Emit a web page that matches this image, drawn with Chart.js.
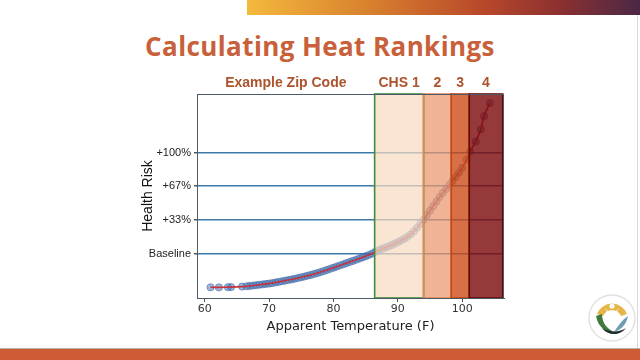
<!DOCTYPE html>
<html>
<head>
<meta charset="utf-8">
<script src="https://cdn.jsdelivr.net/npm/chart.js@4.4.1/dist/chart.umd.min.js"></script>
<style>
    html, body { margin: 0; padding: 0; background: #fff; }
    #slide { position: relative; width: 640px; height: 360px; overflow: hidden; background: #fff; }
    #topBar {
        position: absolute; left: 247px; top: 0; width: 393px; height: 15px;
        background: linear-gradient(90deg, #f3b93d 0%, #d9832f 30%, #b9482a 60%, #8a3030 80%, #4b2846 100%);
    }
    #bottomBar { position: absolute; left: 0; top: 348px; width: 640px; height: 12px; background: #cd5b33; border-top: 1px solid #b9b0a8; }
    #edge { position: absolute; left: 637px; top: 15px; width: 1px; height: 333px; background: #d8d8d8; }
    #title {
        position: absolute; left: 0; top: 28px; width: 640px; text-align: center;
        font: 700 26px 'Open Sans', sans-serif; color: #c8603a; letter-spacing: 0.4px;
    }
    #chart { position: absolute; left: 0; top: 0; }
    #logo { position: absolute; left: 588px; top: 294px; }
</style>
</head>
<body>
<div id="slide">
    <div id="topBar"></div>
    <div id="edge"></div>
    <div id="title">Calculating Heat Rankings</div>
    <canvas id="chart" width="640" height="360"></canvas>
    <svg id="logo" width="48" height="48" viewBox="0 0 48 48">
        <circle cx="24" cy="24" r="23" fill="#fff" stroke="#e2e2e2" stroke-width="1.5"/>
        <path d="M9 20 A16 16 0 0 1 39 20 L33 22 A10 10 0 0 0 15 22 Z" fill="#e6b548"/>
        <circle cx="24" cy="12" r="2.6" fill="#fff"/>
        <path d="M17 14 L24 22 L31 14 L25 26 L23 26 Z" fill="#fff"/>
        <path d="M8 22 C10 34 20 40 30 40 C20 36 14 30 14 20 Z" fill="#3f7a3c"/>
        <path d="M40 22 C38 32 32 36 26 38 C30 32 34 26 40 22 Z" fill="#6e9db3"/>
        <path d="M14 34 C20 42 32 42 38 34 C32 38 22 39 14 34 Z" fill="#1f2b2b"/>
    </svg>
    <div id="bottomBar"></div>
</div>
<script>
// ── Data ────────────────────────────────────────────────────
const temps = [60.9, 62.2, 63.6, 64.1, 65.8, 66.5, 67, 67.5, 68, 68.5, 69, 69.5, 70, 70.5,
    71, 71.5, 72, 72.5, 73, 73.5, 74, 74.5, 75, 75.5, 76, 76.5, 77, 77.5, 78, 78.5, 79, 79.5,
    80, 80.5, 81, 81.5, 82, 82.5, 83, 83.5, 84, 84.5, 85, 85.5, 86, 86.5, 87, 87.5, 88, 88.5,
    89, 89.5, 90, 90.5, 91, 91.5, 92, 92.5, 93, 93.5, 94, 94.5, 95, 95.5, 96, 96.5, 97, 97.5,
    98, 98.5, 99, 99.5, 100, 100.7, 101.2, 102.1, 102.9, 103.4, 104.3];
const risk = [-33.4, -33.5, -33.3, -33.2, -32.7, -32.4, -32.0, -31.7, -31.3, -30.9, -30.5, -30.1, -29.7, -29.2,
    -28.6, -28.0, -27.4, -26.8, -26.2, -25.6, -24.9, -24.2, -23.5, -22.7, -21.9, -21.1, -20.2, -19.3, -18.3, -17.3, -16.2, -15.1,
    -14.0, -12.9, -11.8, -10.7, -9.5, -8.4, -7.3, -6.2, -5.0, -3.8, -2.6, -1.4, 0.0, 1.6, 3.2, 4.6, 5.8, 7.0,
    8.3, 9.8, 11.3, 12.9, 14.6, 16.6, 19.0, 22.0, 25.5, 29.5, 33.5, 38.0, 42.5, 47.0, 51.5, 56.0, 60.0, 64.0,
    68.0, 72.0, 76.0, 80.0, 85.0, 93.0, 101.0, 111.0, 123.0, 136.0, 149.0];

const yTickValues = [0, 33, 67, 100];
const yTickLabels = ['Baseline', '+33%', '+67%', '+100%'];
const xTickValues = [60, 70, 80, 90, 100];

// CHS zones: edges in °F, one label per zone
const zoneEdges  = [86.4, 94.0, 98.3, 101.1, 106.3];
const zoneLabels = ['CHS 1', '2', '3', '4'];
const baseLabel  = 'Example Zip Code';
const zoneFills   = ['rgba(248,217,192,0.72)', 'rgba(236,150,108,0.72)', 'rgba(204,72,18,0.78)', 'rgba(124,8,10,0.8)'];
const zoneStrokes = ['#3f8c3c', '#e0885a', '#c4440e', '#640a0a'];

const points = temps.map((t, i) => ({ x: t, y: risk[i] }));

// ── Zones, frame and zone labels ────────────────────────────
const zonePlugin = {
    id: 'zones',
    afterDatasetsDraw(chart) {
        const { ctx, chartArea: a, scales: { x } } = chart;
        ctx.save();
        for (let i = 0; i < zoneLabels.length; i++) {
            const x0 = x.getPixelForValue(zoneEdges[i]);
            const x1 = x.getPixelForValue(zoneEdges[i + 1]);
            ctx.fillStyle = zoneFills[i];
            ctx.fillRect(x0, a.top, x1 - x0, a.bottom - a.top);
        }
        for (let i = 0; i < zoneLabels.length; i++) {
            const x0 = x.getPixelForValue(zoneEdges[i]);
            const x1 = x.getPixelForValue(zoneEdges[i + 1]);
            ctx.strokeStyle = zoneStrokes[i];
            ctx.lineWidth = 1.6;
            ctx.strokeRect(x0, a.top, x1 - x0, a.bottom - a.top);
        }
        // frame
        ctx.strokeStyle = '#4d5a66';
        ctx.lineWidth = 1;
        ctx.strokeRect(a.left + 0.5, a.top + 0.5, a.right - a.left - 1, a.bottom - a.top);

        // labels above the plot
        ctx.fillStyle = '#ad532c';
        ctx.font = "bold 14px 'Liberation Sans', Arial, sans-serif";
        ctx.textAlign = 'center';
        ctx.textBaseline = 'middle';
        const y = a.top - 11;
        ctx.fillText(baseLabel, (a.left + x.getPixelForValue(zoneEdges[0])) / 2, y);
        for (let i = 0; i < zoneLabels.length; i++) {
            const cx = (x.getPixelForValue(zoneEdges[i]) + x.getPixelForValue(zoneEdges[i + 1])) / 2;
            ctx.fillText(zoneLabels[i], cx, y);
        }
        ctx.restore();
    }
};

new Chart(document.getElementById('chart'), {
    type: 'scatter',
    data: {
        datasets: [
            {
                label: 'fit',
                data: points,
                showLine: true,
                borderColor: '#c8323a',
                borderWidth: 1.6,
                pointRadius: 0,
                tension: 0.3,
                order: 0
            },
            {
                label: 'days',
                data: points,
                backgroundColor: 'rgba(52,112,182,0.5)',
                borderColor: 'rgba(70,100,160,0.55)',
                borderWidth: 1,
                pointRadius: 3.6,
                order: 1
            }
        ]
    },
    options: {
        responsive: false,
        animation: false,
        devicePixelRatio: 1,
        layout: { padding: { left: 136, right: 136, top: 94, bottom: 22 } },
        plugins: { legend: { display: false }, tooltip: { enabled: false } },
        scales: {
            x: {
                type: 'linear',
                min: 58.8, max: 106.5,
                afterFit: s => { s.height = 40; },
                afterBuildTicks: s => { s.ticks = xTickValues.map(v => ({ value: v })); },
                grid: { drawOnChartArea: false, drawTicks: true, tickLength: 4, color: '#555' },
                border: { display: true, color: '#4d5a66' },
                ticks: { padding: 1, color: '#333', font: { family: "'DejaVu Sans'", size: 11 } },
                title: {
                    display: true, text: 'Apparent Temperature (F)', color: '#222',
                    font: { family: "'DejaVu Sans'", size: 13 }, padding: { top: 2, bottom: 4 }
                }
            },
            y: {
                type: 'linear',
                min: -44, max: 158,
                afterFit: s => { s.width = 61; },
                afterBuildTicks: s => { s.ticks = yTickValues.map(v => ({ value: v })); },
                grid: { color: '#3d7aa9', lineWidth: 1.5, drawTicks: true, tickLength: 3, tickColor: '#555' },
                border: { display: true, color: '#4d5a66' },
                ticks: {
                    padding: 3, color: '#222',
                    font: { family: "'Liberation Sans', Arial", size: 11 },
                    callback: v => yTickLabels[yTickValues.indexOf(v)]
                },
                title: {
                    display: true, text: 'Health Risk', color: '#111',
                    font: { family: "'Liberation Sans', Arial", size: 14 }, padding: { top: 4, bottom: 4 }
                }
            }
        }
    },
    plugins: [zonePlugin]
});
</script>
</body>
</html>
